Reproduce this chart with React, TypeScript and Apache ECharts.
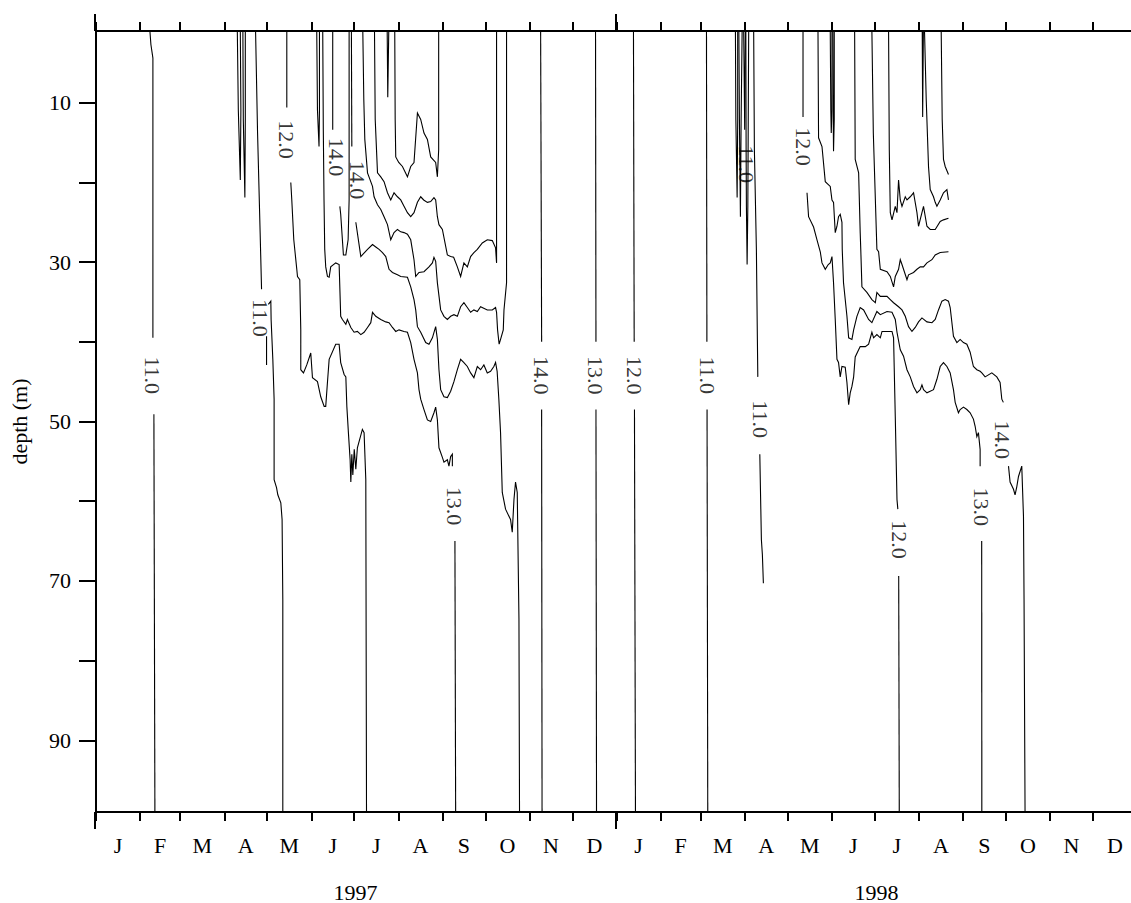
import React, { useEffect, useRef } from 'react';
import * as echarts from 'echarts';

// ---- axes ----
const monthBounds = [0, 31, 59, 90, 120, 151, 181, 212, 243, 273, 304, 334, 365, 396, 424, 455, 485, 516, 546, 577, 608, 638, 669, 699, 730];
const monthLetters = ['J', 'F', 'M', 'A', 'M', 'J', 'J', 'A', 'S', 'O', 'N', 'D', 'J', 'F', 'M', 'A', 'M', 'J', 'J', 'A', 'S', 'O', 'N', 'D'];
const yearBounds = [0, 365, 730];
const yearNames = ['1997', '1998'];
const depthTicks = [10, 20, 30, 40, 50, 60, 70, 80, 90];
const depthLabels = [10, 30, 50, 70, 90];
const dayMax = 725.8;
const depthMin = 1;
const depthMax = 99;

// ---- contour segments: [day since 1 Jan 1997, depth m] ----
const c11Feb97 = [
  [[37.8, 1], [38.5, 2.7], [39.9, 4.4], [39.9, 39.5]],
  [[40.6, 49.1], [41.3, 99]],
];
const loopApr97a = [[[99.1, 1], [99.8, 10.9], [101.2, 19.7], [101.6, 10.9], [101.2, 1]]];
const loopApr97b = [[[103.0, 1], [103.3, 12.1], [104.4, 21.9], [104.7, 12.1], [104.7, 1]]];
const c11Apr97 = [
  [[111.9, 1], [113.3, 13.8], [115.1, 26.3], [116.1, 33.4]],
  [[119.6, 39.3], [119.6, 42.9]],
  [[120.9, 35.3], [122.6, 34.9], [122.8, 37.2], [124.0, 42.2], [124.9, 47.2], [124.9, 57.3], [126.6, 58.3], [127.5, 59.2], [129.6, 60.2], [130.5, 62.3], [131.0, 72.3], [131.0, 99]],
];
const c12May97 = [
  [[133.8, 1], [133.8, 10.6]],
  [[136.6, 20.0], [137.3, 22.2], [138.7, 27.2], [140.8, 30.9], [141.3, 31.8], [142.9, 32.2], [143.6, 38.5], [143.6, 43.5], [145.5, 43.9], [147.8, 42.9], [150.6, 41.4], [151.8, 44.5], [155.3, 45.0], [157.6, 46.9], [160.0, 48.1], [161.1, 48.1], [162.3, 45.1], [163.5, 42.2], [168.1, 40.3], [170.5, 40.3], [171.6, 42.6], [174.0, 44.1], [175.2, 44.4], [175.9, 48.1], [177.0, 51.4], [178.2, 54.8], [178.7, 57.6], [179.4, 54.1], [180.1, 56.7], [181.1, 53.5], [182.2, 56.0], [183.3, 53.3], [186.8, 51.0], [188.0, 51.4], [189.2, 57.3], [189.7, 99]],
];
const loopJun97 = [[[154.8, 1], [155.3, 10.9], [156.4, 15.5], [156.7, 10.9], [156.7, 1]]];
const c13Jun97 = [
  [[159.0, 1], [159.4, 13.4], [159.9, 22.2], [160.4, 28.4], [161.1, 30.6], [162.3, 31.8], [163.5, 31.9], [164.6, 30.6], [168.1, 30.1], [170.5, 30.3], [171.6, 36.8], [172.8, 37.2], [175.2, 37.8], [176.3, 37.2], [178.7, 38.2], [181.0, 38.8], [183.3, 38.7], [185.7, 39.1], [188.0, 38.8], [190.4, 38.2], [192.7, 37.6], [193.9, 36.3], [196.2, 36.8], [199.7, 37.2], [203.2, 37.5], [205.5, 37.6], [207.9, 38.2], [210.2, 38.7], [212.5, 38.5], [216.0, 38.7], [218.4, 38.8], [220.7, 40.1], [223.0, 42.2], [225.4, 43.9], [226.5, 46.0], [227.7, 47.2], [230.0, 48.5], [232.4, 49.8], [234.7, 50.0], [237.0, 48.9], [238.2, 48.2], [239.4, 49.8], [240.5, 53.3], [242.9, 54.5], [244.0, 55.1], [246.4, 54.8], [247.5, 55.6], [248.7, 54.4], [249.9, 54.1], [249.9, 55.6]],
  [[251.7, 65.0], [252.2, 99]],
];
const c14Jun97U = [
  [[166.0, 1], [166.0, 13.4]],
  [[171.0, 23.0], [171.6, 24.0], [173.5, 29.1], [175.2, 29.1], [176.8, 27.2], [177.5, 22.2], [177.5, 1]],
];
const c14Jun97 = [
  [[179.1, 1], [179.4, 15.5]],
  [[182.2, 25.0], [185.7, 29.3], [190.4, 28.4], [193.9, 27.8], [196.2, 28.1], [198.5, 28.4], [200.9, 28.8], [203.2, 29.3], [205.5, 30.9], [207.9, 31.3], [211.4, 31.6], [213.7, 31.8], [218.4, 31.9], [220.7, 33.1], [223.0, 34.7], [224.2, 36.0], [225.4, 38.1], [227.7, 38.8], [231.2, 40.1], [233.5, 40.3], [235.9, 39.5], [238.2, 38.1], [239.4, 39.7], [240.5, 43.5], [241.7, 46.0], [244.0, 46.9], [246.4, 47.0], [248.7, 46.2], [251.0, 45.0], [253.4, 43.5], [255.7, 42.2], [258.0, 42.6], [260.4, 43.1], [262.7, 43.9], [265.0, 44.5], [267.4, 43.1], [269.7, 43.5], [272.0, 42.9], [274.4, 43.9], [276.7, 43.7], [279.0, 43.1], [280.2, 42.6], [281.3, 43.7], [282.5, 47.2], [283.7, 51.4], [284.9, 58.9], [287.2, 61.0], [290.7, 62.3], [291.9, 63.9], [293.1, 59.8], [294.2, 57.6], [295.4, 58.9], [296.6, 74.8], [297.0, 99]],
];
const cJul97C = [
  [[187.1, 1], [187.8, 9.6], [188.5, 14.6], [190.4, 18.8], [193.9, 20.5], [195.0, 21.8], [197.4, 22.8], [199.7, 23.4], [202.0, 24.3], [204.4, 25.3], [206.7, 27.2], [209.0, 26.3], [211.4, 25.9], [213.7, 26.2], [216.0, 26.3], [218.4, 26.5], [220.7, 27.2], [223.0, 29.7], [224.2, 31.8], [226.5, 31.3], [230.0, 31.2], [233.5, 30.6], [235.9, 30.1], [237.0, 29.4], [238.2, 29.9], [239.4, 32.6], [241.7, 36.0], [244.0, 36.8], [246.4, 37.2], [248.7, 36.8], [251.0, 36.6], [253.4, 36.8], [255.7, 35.6], [258.0, 35.1], [260.4, 35.7], [262.7, 36.3], [265.0, 36.0], [267.4, 36.2], [269.7, 35.6], [274.4, 36.0], [277.9, 36.0], [280.2, 35.7], [280.9, 36.3], [281.6, 38.5], [282.7, 40.3], [283.7, 39.7], [285.6, 38.5], [286.1, 36.0], [287.9, 32.6], [287.9, 1]],
];
const cJul97B = [
  [[195.3, 1], [195.8, 12.1], [197.4, 18.8], [199.7, 19.3], [202.0, 19.9], [204.4, 21.3], [206.7, 22.2], [209.0, 21.3], [211.4, 21.8], [213.7, 22.2], [216.0, 23.0], [218.4, 23.8], [220.7, 24.3], [223.0, 23.8], [225.4, 22.5], [227.7, 21.8], [229.8, 22.2], [232.4, 22.5], [234.7, 22.4], [237.0, 21.9], [238.2, 22.2], [239.4, 24.3], [240.5, 25.3], [242.9, 25.9], [246.4, 29.1], [248.7, 29.3], [250.8, 29.4], [253.4, 30.6], [255.7, 31.8], [258.0, 30.1], [260.4, 30.6], [262.7, 29.3], [265.0, 28.8], [267.4, 28.4], [270.9, 27.6], [274.4, 27.2], [277.9, 27.3], [280.2, 28.2], [280.9, 30.1], [280.9, 1]],
];
const cAug97A = [
  [[209.5, 1], [209.8, 12.1], [210.2, 16.8], [212.3, 17.5], [214.9, 18.0], [218.4, 19.3], [220.7, 18.0], [223.0, 17.5], [225.4, 11.3], [227.7, 12.1], [230.0, 13.8], [232.4, 14.6], [234.7, 16.8], [238.2, 17.5], [239.4, 19.3], [240.3, 15.9], [240.3, 1]],
];
const loopJul97 = [[[204.2, 1], [204.6, 9.3], [205.3, 1]]];
const c14Oct97 = [[[311.8, 1], [312.5, 40.0]], [[312.5, 48.5], [312.8, 99]]];
const c13Nov97 = [[[350.3, 1], [350.6, 40.0]], [[350.6, 48.5], [351.0, 99]]];
const c12Dec97 = [[[376.9, 1], [377.4, 40.0]], [[377.6, 48.5], [378.3, 99]]];
const c11Mar98 = [[[428.1, 1], [428.4, 40.0]], [[428.5, 48.5], [429.0, 99]]];
const loopMar98a = [[[448.4, 1], [448.7, 12.1], [449.6, 21.9], [450.0, 12.1], [450.0, 1]]];
const loopMar98b = [[[450.8, 1], [451.2, 12.1], [451.9, 24.3], [452.4, 12.1], [453.1, 1]]];
const loopMar98c = [[[454.2, 1], [454.7, 9.6], [454.9, 13.4], [455.1, 9.6], [455.4, 1]]];
const loopMar98d = [[[455.7, 1], [455.9, 15.9], [456.1, 23.0], [456.6, 30.3], [457.1, 23.0], [457.7, 1]]];
const c11Apr98 = [
  [[461.2, 1], [461.7, 15.9], [463.1, 28.4], [463.8, 39.7], [464.1, 44.4]],
  [[465.5, 54.1], [466.6, 64.8], [467.3, 66.7], [468.0, 70.3]],
];
const c12May98 = [
  [[495.8, 1], [495.8, 11.8]],
  [[498.6, 21.3], [499.7, 24.3], [503.2, 25.6], [505.6, 27.2], [507.9, 28.7], [509.1, 30.1], [511.4, 30.9], [513.5, 30.3], [514.9, 30.1], [516.1, 29.3], [517.2, 32.6], [518.4, 37.2], [519.6, 42.2], [520.7, 42.6], [521.9, 44.4], [523.1, 43.1], [525.4, 43.2], [526.6, 45.1], [527.8, 47.9], [528.9, 46.4], [530.1, 45.6], [531.3, 44.4], [532.4, 41.9], [534.8, 41.0], [535.9, 40.6], [539.5, 40.6], [541.8, 40.3], [544.1, 38.8], [545.3, 39.5], [547.6, 39.1], [550.0, 39.5], [551.2, 38.7], [558.2, 38.7], [559.3, 39.5], [560.5, 49.4], [561.7, 59.8], [562.3, 61.0]],
  [[562.9, 69.4], [563.3, 99]],
];
const loopMay98a = [[[514.9, 1], [515.3, 10.9], [515.6, 13.8], [516.1, 10.9], [516.1, 1]]];
const loopMay98b = [[[516.7, 1], [517.0, 12.1], [517.2, 16.1], [517.7, 12.1], [517.7, 1]]];
const c13May98 = [
  [[506.3, 1], [506.7, 14.4], [509.1, 15.5], [511.4, 19.9], [514.9, 20.5], [516.1, 22.2], [517.2, 22.5], [518.4, 26.3], [519.6, 25.5], [520.7, 24.3], [521.9, 24.0], [523.1, 25.0], [523.3, 28.4], [524.2, 32.6], [526.6, 36.8], [527.8, 39.5], [530.1, 39.7], [531.3, 38.5], [533.6, 36.8], [535.9, 35.7], [538.3, 36.0], [541.8, 37.2], [544.1, 37.6], [547.6, 36.2], [550.0, 36.6], [554.7, 36.2], [558.2, 36.3], [560.5, 37.2], [561.7, 38.8], [564.0, 41.0], [566.3, 41.8], [568.7, 43.5], [571.0, 44.4], [573.3, 45.6], [575.7, 46.4], [578.0, 46.0], [579.2, 45.4], [580.3, 46.0], [582.7, 46.4], [587.3, 46.0], [589.7, 44.7], [592.0, 43.1], [594.3, 42.6], [596.7, 43.1], [599.0, 43.9], [601.3, 46.0], [602.5, 47.6], [604.8, 48.9], [606.0, 48.5], [608.3, 48.2], [610.7, 48.5], [613.0, 48.9], [615.3, 49.7], [616.5, 50.6], [617.7, 51.9], [618.8, 51.4], [620.0, 53.5], [620.0, 55.6]],
  [[621.1, 65.0], [621.2, 99]],
];
const c14Jun98 = [
  [[532.0, 1], [532.4, 17.1], [534.8, 18.8], [535.9, 26.3], [536.3, 28.4], [537.1, 33.1], [540.6, 33.8], [544.1, 34.7], [546.5, 35.1], [547.6, 33.8], [550.0, 34.3], [554.7, 34.3], [557.0, 34.7], [559.3, 35.1], [562.8, 35.6], [565.2, 36.0], [567.5, 36.8], [569.8, 38.1], [572.2, 38.7], [574.5, 38.2], [576.8, 37.5], [579.2, 37.0], [582.7, 37.5], [586.2, 37.6], [588.5, 37.2], [590.8, 36.0], [593.2, 34.9], [595.5, 34.7], [597.8, 34.9], [599.0, 35.7], [601.3, 39.3], [603.7, 40.1], [606.0, 39.7], [608.3, 40.1], [610.7, 40.3], [613.0, 41.3], [615.3, 43.1], [617.7, 43.5], [620.0, 43.7], [621.2, 43.9], [623.5, 44.4], [628.2, 43.9], [631.7, 44.4], [634.0, 45.1], [635.2, 47.2], [636.3, 47.6]],
  [[639.9, 55.6], [641.0, 57.6], [643.4, 58.5], [644.5, 59.2], [645.7, 58.2], [646.9, 56.9], [649.2, 55.6], [650.4, 61.9], [650.8, 72.3], [651.5, 99]],
];
const cJun98Q4 = [[[544.1, 1], [545.1, 13.8], [547.6, 28.4], [548.8, 28.7], [550.0, 30.9], [554.7, 31.2], [557.0, 31.8], [559.3, 33.1], [560.5, 31.8], [562.8, 30.9], [564.0, 29.7], [565.2, 30.3], [568.7, 32.2], [569.8, 31.6], [573.3, 31.3], [575.7, 30.9], [578.0, 30.6], [580.3, 30.6], [582.7, 30.1], [586.2, 29.7], [588.5, 29.1], [592.0, 28.8], [597.8, 28.7]]];
const cJul98Q3 = [[[555.8, 1], [556.3, 15.9], [557.0, 23.8], [558.2, 24.7], [560.5, 23.0], [561.7, 23.8], [562.8, 19.7], [564.0, 22.2], [565.2, 23.0], [567.5, 21.8], [568.7, 22.2], [571.0, 21.8], [573.3, 21.3], [575.7, 23.8], [576.8, 25.5], [579.2, 23.8], [580.3, 23.0], [582.7, 25.5], [585.0, 25.9], [588.5, 25.9], [592.0, 24.9], [594.3, 24.7], [597.8, 24.5]]];
const cAug98Q2 = [[[581.0, 1], [582.2, 9.6], [583.8, 18.0], [585.0, 20.9], [587.3, 21.8], [588.5, 22.5], [589.7, 23.0], [592.0, 22.2], [594.3, 21.3], [596.7, 20.9], [597.8, 22.2]]];
const cAug98Q1 = [[[592.7, 1], [593.4, 12.1], [594.3, 17.1], [595.5, 18.0], [597.8, 19.0]]];
const loopJul98 = [[[579.4, 1], [579.7, 11.8], [580.2, 1]]];

const allContours = [
  c11Feb97, loopApr97a, loopApr97b, c11Apr97, c12May97, loopJun97, c13Jun97, c14Jun97U, c14Jun97,
  cJul97C, cJul97B, cAug97A, loopJul97, c14Oct97, c13Nov97, c12Dec97, c11Mar98,
  loopMar98a, loopMar98b, loopMar98c, loopMar98d, c11Apr98, c12May98, loopMay98a, loopMay98b,
  c13May98, c14Jun98, cJun98Q4, cJul98Q3, cAug98Q2, cAug98Q1, loopJul98,
];

// ---- contour labels ----
const labelTexts = ['11.0', '11.0', '12.0', '14.0', '14.0', '13.0', '14.0', '13.0', '12.0', '11.0', '11.0', '11.0', '12.0', '12.0', '13.0', '14.0'];
const labelDays = [39.9, 115.2, 133.8, 168.5, 183.6, 251.5, 312.5, 350.6, 377.5, 428.5, 456.1, 465.9, 496.0, 563.3, 620.7, 635.4];
const labelDepths = [44.2, 37.0, 14.6, 16.8, 19.7, 60.6, 44.2, 44.2, 44.2, 44.2, 17.7, 49.7, 15.5, 64.8, 60.7, 52.3];

const FONT = "'Liberation Serif', 'Times New Roman', serif";
const FS = 22;

export default function App() {
  const ref = useRef<HTMLDivElement>(null);
  useEffect(() => {
    if (!ref.current) return;
    const chart = echarts.init(ref.current, null, { renderer: 'svg' });
    const monthMids = monthBounds.slice(0, -1).map((b, i) => (b + monthBounds[i + 1]) / 2);
    const yearMids = yearBounds.slice(0, -1).map((b, i) => (b + yearBounds[i + 1]) / 2);
    const nearest = (arr: number[], v: number) => {
      let best = 0;
      arr.forEach((a, i) => { if (Math.abs(a - v) < Math.abs(arr[best] - v)) best = i; });
      return best;
    };
    const black = '#000';
    const segments = allContours.flat(1);
    const labelData = labelTexts.map((t, i) => ({ name: t, value: [labelDays[i], labelDepths[i]] }));
    const grid = { left: 95, top: 31, right: 0, height: 781 };
    const option: any = {
      animation: false,
      backgroundColor: '#fff',
      textStyle: { fontFamily: FONT },
      grid: [grid, { ...grid }],
      xAxis: [
        {
          gridIndex: 0, type: 'value', position: 'bottom', min: 0, max: dayMax,
          axisLine: { show: true, onZero: false, lineStyle: { color: black, width: 2 } },
          axisTick: { show: true, customValues: monthBounds, length: 9, inside: false, lineStyle: { color: black, width: 2 } },
          axisLabel: {
            show: true, customValues: monthMids, margin: 22, color: black, fontSize: FS, fontFamily: FONT,
            formatter: (v: number) => monthLetters[nearest(monthMids, v)],
          },
          splitLine: { show: false },
        },
        {
          gridIndex: 0, type: 'value', position: 'top', min: 0, max: dayMax,
          axisLine: { show: true, onZero: false, lineStyle: { color: black, width: 2 } },
          axisTick: { show: true, customValues: monthBounds, length: 9, inside: false, lineStyle: { color: black, width: 2 } },
          axisLabel: { show: false },
          splitLine: { show: false },
        },
        {
          gridIndex: 1, type: 'value', position: 'bottom', min: 0, max: dayMax,
          axisLine: { show: false, onZero: false },
          axisTick: { show: true, customValues: yearBounds, length: 17, inside: false, lineStyle: { color: black, width: 2 } },
          axisLabel: {
            show: true, customValues: yearMids, margin: 69, color: black, fontSize: FS, fontFamily: FONT,
            formatter: (v: number) => yearNames[nearest(yearMids, v)],
          },
          splitLine: { show: false },
        },
        {
          gridIndex: 1, type: 'value', position: 'top', min: 0, max: dayMax,
          axisLine: { show: false, onZero: false },
          axisTick: { show: true, customValues: yearBounds, length: 17, inside: false, lineStyle: { color: black, width: 2 } },
          axisLabel: { show: false },
          splitLine: { show: false },
        },
      ],
      yAxis: [
        {
          gridIndex: 0, type: 'value', inverse: true, min: depthMin, max: depthMax, position: 'left',
          name: 'depth (m)', nameLocation: 'middle', nameGap: 66, nameRotate: 90,
          nameTextStyle: { color: black, fontSize: FS, fontFamily: FONT },
          axisLine: { show: true, onZero: false, lineStyle: { color: black, width: 2 } },
          axisTick: { show: true, customValues: depthTicks, length: 17, inside: false, lineStyle: { color: black, width: 2 } },
          axisLabel: { show: true, customValues: depthLabels, margin: 25, color: black, fontSize: FS, fontFamily: FONT },
          splitLine: { show: false },
        },
        { gridIndex: 1, type: 'value', show: false, min: 0, max: 1 },
      ],
      series: [
        {
          type: 'lines', coordinateSystem: 'cartesian2d', xAxisIndex: 0, yAxisIndex: 0,
          polyline: true, silent: true,
          lineStyle: { color: black, width: 1.1, opacity: 1 },
          data: segments.map((s) => ({ coords: s })),
          z: 2,
        },
        {
          type: 'scatter', xAxisIndex: 0, yAxisIndex: 0, symbolSize: 1, silent: true,
          itemStyle: { color: 'rgba(0,0,0,0)' },
          data: labelData,
          label: {
            show: true, position: 'inside', rotate: -90, formatter: '{b}',
            color: black, fontSize: FS, fontFamily: FONT,
          },
          z: 3,
        },
      ],
    };
    chart.setOption(option);
    return () => chart.dispose();
  }, []);
  return <div ref={ref} style={{ position: 'absolute', left: 0, top: 0, width: 1131, height: 903 }} />;
}
